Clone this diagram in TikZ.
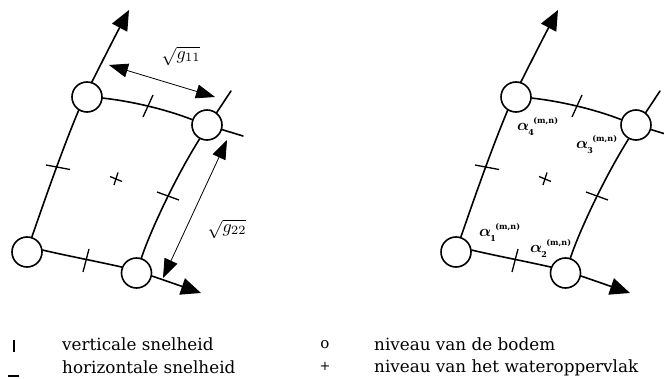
\documentclass[tikz,border=0pt]{standalone}
\usepackage{fontspec}
\setmainfont{DejaVu Serif}
\usetikzlibrary{arrows.meta}
\tikzset{
  knot/.style={circle,draw,line width=1.6pt,fill=white,minimum size=30pt,inner sep=0pt},
  grid line/.style={line width=1.6pt,line cap=round},
  tick/.style={line width=1.3pt},
  axis/.style={grid line,-{Triangle[length=20pt,width=17pt]}},
  span/.style={line width=0.8pt,{Triangle[length=19pt,width=14pt]}-{Triangle[length=19pt,width=14pt]}},
  legend/.style={anchor=base west,inner sep=0pt,font=\fontsize{16.8}{18}\selectfont},
  lab/.style={inner sep=0pt},
  alab/.style={inner sep=0pt,anchor=base west}
}
\newcommand{\alphalab}[1]{\scalebox{1.6}{\boldmath$\alpha$}\raisebox{-5pt}{\fontsize{8}{9}\bfseries\selectfont\kern-1pt#1}\raisebox{7pt}{\fontsize{8}{9}\bfseries\selectfont\kern-0.5pt(m,n)}}
\newcommand{\gridcell}[1]{%
  \node[knot] (#1a) at (27,252) {};
  \node[knot] (#1b) at (136.5,273) {};
  \node[knot] (#1c) at (207,125) {};
  \node[knot] (#1d) at (87,97) {};
  \coordinate (#1top) at (129,10);
  \coordinate (#1right) at (201,293);
  \coordinate (#1ne) at (231,91);
  \coordinate (#1se) at (243,136);
  \draw[grid line] (#1a.72) .. controls (44,202) and (62,150) .. (#1d.-122);
  \draw[grid line] (#1a.7) .. controls (68,256) and (95,261) .. (#1b.158);
  \draw[grid line] (#1d.-4) .. controls (130,101) and (165,109) .. (#1c.160);
  \draw[grid line] (#1b.72) .. controls (150,232) and (175,178) .. (#1c.-118);
  \draw[axis] (#1d.72) .. controls (100,66) and (112,42) .. (#1top);
  \draw[axis] (#1b.-11) -- (#1right);
  \draw[grid line] (#1c.52) -- (#1ne);
  \draw[grid line] (#1c.-17) -- (#1se);
  \draw[tick] (46,165) -- (70,169.5);
  \draw[tick] (89,249) -- (83,272);
  \draw[tick] (153,95) -- (143,117);
  \draw[tick] (157,192) -- (179,200);
  \draw[tick] (110,176.5) -- (122,181.5);
  \draw[tick] (118,172.5) -- (114,185);
}
\begin{document}
\begin{tikzpicture}[x=1pt,y=-1pt]
\useasboundingbox (0,0) rectangle (664,379);
\begin{scope}
  \gridcell{l}
  \coordinate (g1s) at (109,65);
  \coordinate (g1e) at (215,97);
  \coordinate (g2s) at (227,140);
  \coordinate (g2e) at (163,278);
  \draw[span] (g1s) -- (g1e);
  \draw[span] (g2s) -- (g2e);
  \node[lab] (g11) at (181,56) {\scalebox{1.8}{$\sqrt{g_{11}}$}};
  \node[lab] (g22) at (227,229) {\scalebox{1.8}{$\sqrt{g_{22}}$}};
\end{scope}
\begin{scope}[xshift=429pt]
  \gridcell{r}
  \node[alab] (a4) at (88,131) {\alphalab{4}};
  \node[alab] (a3) at (147,149) {\alphalab{3}};
  \node[alab] (a1) at (50,237) {\alphalab{1}};
  \node[alab] (a2) at (101,253) {\alphalab{2}};
\end{scope}
\draw[line width=2pt] (13.5,340) coordinate (v1) -- (13.5,352) coordinate (v2);
\draw[line width=2pt] (8,376) coordinate (h1) -- (18.5,376) coordinate (h2);
\node[legend] (t1) at (62,351) {verticale snelheid};
\node[legend] (t2) at (62,373) {horizontale snelheid};
\node[inner sep=0pt,font=\fontsize{15}{16}\selectfont] (t3) at (325,345) {o};
\node[inner sep=0pt,font=\fontsize{13}{14}\selectfont] (t4) at (325,366) {+};
\node[legend] (t5) at (374,350) {niveau van de bodem};
\node[legend] (t6) at (374,372) {niveau van het wateroppervlak};
\end{tikzpicture}
\end{document}
